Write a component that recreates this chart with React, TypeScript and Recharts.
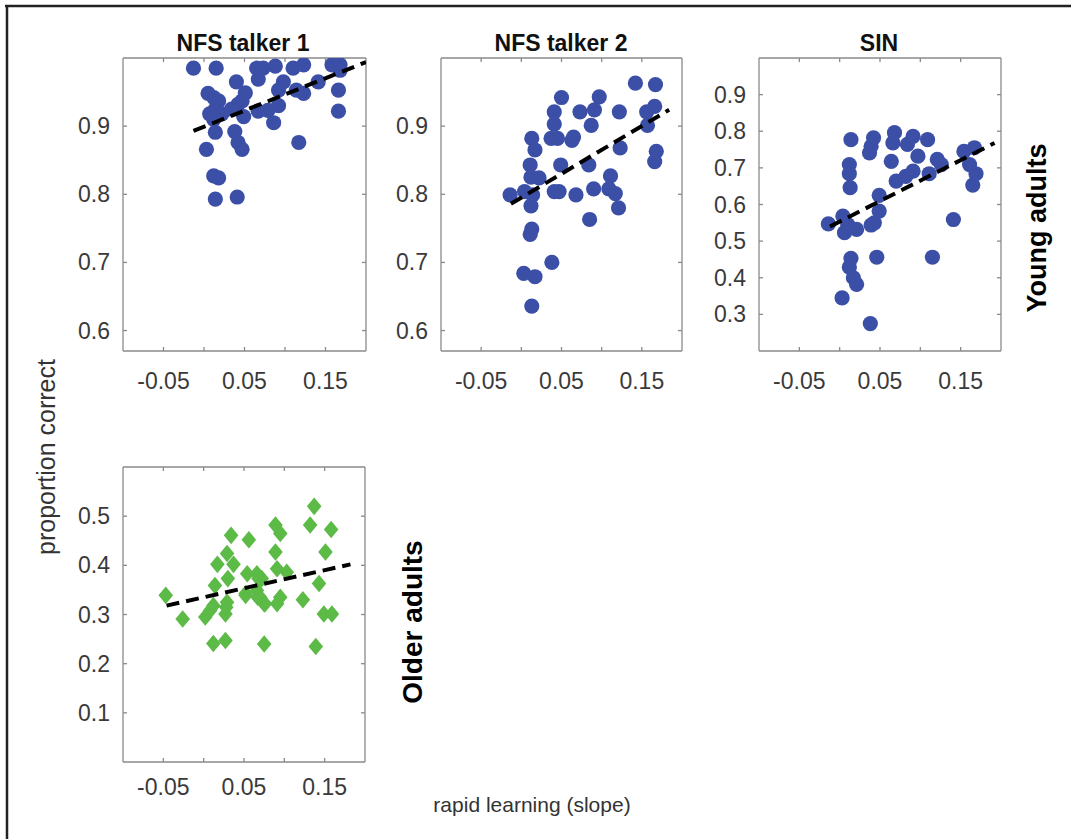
import React from "react";
import { ScatterChart, Scatter, XAxis, YAxis } from "recharts";

const FONT = "'Liberation Sans', Arial, Helvetica, sans-serif";
const BLUE = "#3c4fa7";
const GREEN = "#5cba46";
const AXIS = "#8a8a8a";
const TICKTXT = "#3a3a3a";

// shared x axis ticks
const xTickValues = [-0.05, 0, 0.05, 0.1, 0.15];
const xLabelValues = [-0.05, 0.05, 0.15];
const xLabelTexts = ["-0.05", "0.05", "0.15"];

// panel titles / labels
const panelTitles = ["NFS talker 1", "NFS talker 2", "SIN"];
const rowLabels = ["Young adults", "Older adults"];
const yAxisTitle = "proportion correct";
const xAxisTitle = "rapid learning (slope)";

// y tick values
const yTicksNFS = [0.6, 0.7, 0.8, 0.9];
const yTicksSIN = [0.3, 0.4, 0.5, 0.6, 0.7, 0.8, 0.9];
const yTicksOld = [0.1, 0.2, 0.3, 0.4, 0.5];

// Young adults, NFS talker 1
const t1X = [-0.013, 0.015, 0.065, 0.073, 0.088, 0.110, 0.123, 0.158, 0.168, 0.168, 0.067, 0.040, 0.098, 0.092, 0.141, 0.166, 0.051, 0.005, 0.012, 0.123, 0.114, 0.018, 0.047, 0.042, 0.092, 0.067, 0.079, 0.166, 0.014, 0.022, 0.012, 0.034, 0.049, 0.086, 0.014, 0.038, 0.042, 0.047, 0.003, 0.117, 0.012, 0.018, 0.014, 0.041, 0.007];
const t1Y = [0.985, 0.985, 0.985, 0.985, 0.988, 0.985, 0.990, 0.990, 0.990, 0.982, 0.969, 0.965, 0.965, 0.953, 0.965, 0.953, 0.949, 0.948, 0.942, 0.948, 0.953, 0.937, 0.937, 0.932, 0.930, 0.922, 0.923, 0.922, 0.925, 0.918, 0.910, 0.925, 0.914, 0.905, 0.891, 0.892, 0.876, 0.866, 0.866, 0.876, 0.827, 0.824, 0.793, 0.796, 0.918];
const t1FitX = [-0.013, 0.2];
const t1FitY = [0.893, 0.994];

// Young adults, NFS talker 2
const t2X = [0.142, 0.167, 0.050, 0.097, 0.041, 0.073, 0.091, 0.122, 0.156, 0.166, 0.041, 0.087, 0.157, 0.037, 0.045, 0.065, 0.063, 0.013, 0.017, 0.123, 0.168, 0.166, 0.011, 0.049, 0.084, 0.012, 0.022, 0.111, -0.014, 0.004, 0.014, 0.012, 0.041, 0.047, 0.068, 0.090, 0.109, 0.117, 0.121, 0.085, 0.013, 0.011, 0.038, 0.003, 0.017, 0.013];
const t2Y = [0.963, 0.961, 0.942, 0.943, 0.921, 0.921, 0.924, 0.921, 0.921, 0.929, 0.903, 0.901, 0.901, 0.882, 0.882, 0.884, 0.879, 0.882, 0.865, 0.868, 0.863, 0.848, 0.843, 0.843, 0.843, 0.825, 0.824, 0.827, 0.799, 0.804, 0.799, 0.783, 0.804, 0.804, 0.799, 0.808, 0.808, 0.801, 0.780, 0.763, 0.749, 0.741, 0.700, 0.684, 0.679, 0.636];
const t2FitX = [-0.013, 0.184];
const t2FitY = [0.786, 0.924];

// Young adults, SIN
const sinX = [0.014, 0.042, 0.039, 0.037, 0.068, 0.066, 0.091, 0.084, 0.109, 0.097, 0.064, 0.012, 0.012, 0.121, 0.126, 0.154, 0.167, 0.161, 0.169, 0.165, 0.091, 0.082, 0.070, 0.111, 0.013, 0.049, 0.049, 0.043, -0.014, 0.004, 0.010, 0.006, 0.021, 0.039, 0.141, 0.014, 0.012, 0.046, 0.115, 0.017, 0.021, 0.003, 0.038];
const sinY = [0.777, 0.782, 0.759, 0.741, 0.796, 0.768, 0.786, 0.764, 0.777, 0.732, 0.718, 0.709, 0.684, 0.723, 0.709, 0.745, 0.755, 0.709, 0.684, 0.653, 0.691, 0.677, 0.664, 0.684, 0.646, 0.625, 0.582, 0.550, 0.547, 0.568, 0.545, 0.523, 0.532, 0.544, 0.559, 0.453, 0.429, 0.456, 0.456, 0.400, 0.382, 0.345, 0.275];
const sinFitX = [-0.012, 0.192];
const sinFitY = [0.540, 0.768];

// Older adults
const oldX = [-0.047, -0.026, 0.002, 0.008, 0.014, 0.017, 0.012, 0.027, 0.029, 0.034, 0.037, 0.030, 0.029, 0.027, 0.056, 0.054, 0.052, 0.066, 0.072, 0.067, 0.075, 0.075, 0.089, 0.095, 0.089, 0.091, 0.103, 0.091, 0.095, 0.123, 0.132, 0.137, 0.143, 0.139, 0.151, 0.158, 0.149, 0.159, 0.068, 0.066, 0.070, 0.076, 0.052, 0.028, 0.012];
const oldY = [0.339, 0.291, 0.295, 0.308, 0.359, 0.402, 0.241, 0.247, 0.424, 0.461, 0.402, 0.373, 0.325, 0.301, 0.452, 0.383, 0.342, 0.383, 0.373, 0.335, 0.322, 0.240, 0.482, 0.465, 0.427, 0.393, 0.386, 0.322, 0.335, 0.330, 0.482, 0.520, 0.363, 0.235, 0.427, 0.473, 0.301, 0.301, 0.373, 0.349, 0.335, 0.322, 0.339, 0.315, 0.318];
const oldFitX = [-0.046, 0.182];
const oldFitY = [0.318, 0.402];

const zip = (xs: number[], ys: number[]) => xs.map((x, i) => ({ x, y: ys[i] }));

const near = (a: number, b: number) => Math.abs(a - b) < 1e-9;

const XTick = (props: any) => {
  const { x, y, payload } = props;
  const idx = xLabelValues.findIndex((v) => near(v, payload.value));
  if (idx < 0) return <g />;
  return (
    <text x={x} y={y} dy="0.35em" textAnchor="middle" fontSize={23} fill={TICKTXT} fontFamily={FONT}>
      {xLabelTexts[idx]}
    </text>
  );
};

const YTick = (props: any) => {
  const { x, y, payload } = props;
  return (
    <text x={x} y={y} dy="0.35em" textAnchor="end" fontSize={23} fill={TICKTXT} fontFamily={FONT}>
      {Number(payload.value).toFixed(1)}
    </text>
  );
};

const Empty = () => <g />;

const Circle = (props: any) => {
  const { cx, cy, fill } = props;
  if (cx == null || cy == null) return <g />;
  return <circle cx={cx} cy={cy} r={7.6} fill={fill} />;
};

const Diamond = (props: any) => {
  const { cx, cy, fill } = props;
  if (cx == null || cy == null) return <g />;
  const w = 7.3, h = 8.8;
  return <polygon points={`${cx},${cy - h} ${cx + w},${cy} ${cx},${cy + h} ${cx - w},${cy}`} fill={fill} />;
};

type PanelProps = {
  left: number;
  top: number;
  w: number;
  h: number;
  yDomain: [number, number];
  yTicks: number[];
  data: { x: number; y: number }[];
  fit: { x: number; y: number }[];
  color: string;
  shape: any;
  xLabelGap: number;
};

const Panel = ({ left, top, w, h, yDomain, yTicks, data, fit, color, shape, xLabelGap }: PanelProps) => {
  const W = w + 80;
  const H = h + 60;
  return (
    <div style={{ position: "absolute", left: left - 70, top: top - 10, width: W, height: H }}>
      <ScatterChart width={W} height={H} margin={{ top: 0, right: 0, bottom: 0, left: 0 }} style={{ overflow: "visible" }}>
        <XAxis
          xAxisId="b"
          dataKey="x"
          type="number"
          domain={[-0.1, 0.2]}
          ticks={xTickValues}
          allowDataOverflow
          height={50}
          stroke={AXIS}
          strokeWidth={1.3}
          tickSize={-4}
          tickMargin={xLabelGap}
          tick={<XTick />}
          interval={0}
        />
        <XAxis
          xAxisId="t"
          orientation="top"
          dataKey="x"
          type="number"
          domain={[-0.1, 0.2]}
          ticks={xTickValues}
          allowDataOverflow
          height={10}
          stroke={AXIS}
          strokeWidth={1.3}
          tickSize={-4}
          tick={<Empty />}
          interval={0}
        />
        <YAxis
          yAxisId="l"
          dataKey="y"
          type="number"
          domain={yDomain}
          ticks={yTicks}
          allowDataOverflow
          width={70}
          stroke={AXIS}
          strokeWidth={1.3}
          tickSize={-4}
          tickMargin={17}
          tick={<YTick />}
          interval={0}
        />
        <YAxis
          yAxisId="r"
          orientation="right"
          dataKey="y"
          type="number"
          domain={yDomain}
          ticks={yTicks}
          allowDataOverflow
          width={10}
          stroke={AXIS}
          strokeWidth={1.3}
          tickSize={-4}
          tick={<Empty />}
          interval={0}
        />
        <Scatter xAxisId="b" yAxisId="l" data={data} fill={color} shape={shape} isAnimationActive={false} />
        <Scatter
          xAxisId="b"
          yAxisId="l"
          data={fit}
          fill="none"
          line={{ stroke: "#000", strokeWidth: 4, strokeDasharray: "13 7" }}
          shape={<Empty />}
          isAnimationActive={false}
        />
      </ScatterChart>
    </div>
  );
};

export default function App() {
  const titleCx = [243, 561, 879];
  return (
    <div style={{ position: "absolute", left: 0, top: 0, width: 1071, height: 839, background: "#fff", overflow: "hidden" }}>
      <svg width={1071} height={839} style={{ position: "absolute", left: 0, top: 0 }}>
        <line x1={5} y1={6} x2={1071} y2={6} stroke="#222" strokeWidth={2.5} />
        <line x1={7} y1={5} x2={7} y2={839} stroke="#222" strokeWidth={2.5} />
        {panelTitles.map((t, i) => (
          <text key={t} x={titleCx[i]} y={51} textAnchor="middle" fontSize={23} fontWeight="bold" fill="#111" fontFamily={FONT}>
            {t}
          </text>
        ))}
        <text x={55} y={457} transform="rotate(-90 55 457)" textAnchor="middle" fontSize={25} fill="#333" fontFamily={FONT}>
          {yAxisTitle}
        </text>
        <text x={532} y={812} textAnchor="middle" fontSize={21} fill="#333" fontFamily={FONT}>
          {xAxisTitle}
        </text>
        <text x={1046} y={228} transform="rotate(-90 1046 228)" textAnchor="middle" fontSize={27} fontWeight="bold" fill="#000" fontFamily={FONT}>
          {rowLabels[0]}
        </text>
        <text x={422} y={622} transform="rotate(-90 422 622)" textAnchor="middle" fontSize={28} fontWeight="bold" fill="#000" fontFamily={FONT}>
          {rowLabels[1]}
        </text>
      </svg>
      <Panel left={123} top={58} w={243} h={293} yDomain={[0.57, 1.0]} yTicks={yTicksNFS} data={zip(t1X, t1Y)} fit={zip(t1FitX, t1FitY)} color={BLUE} shape={<Circle />} xLabelGap={34} />
      <Panel left={441} top={58} w={241} h={293} yDomain={[0.57, 1.0]} yTicks={yTicksNFS} data={zip(t2X, t2Y)} fit={zip(t2FitX, t2FitY)} color={BLUE} shape={<Circle />} xLabelGap={34} />
      <Panel left={759} top={58} w={242} h={293} yDomain={[0.2, 1.0]} yTicks={yTicksSIN} data={zip(sinX, sinY)} fit={zip(sinFitX, sinFitY)} color={BLUE} shape={<Circle />} xLabelGap={34} />
      <Panel left={123} top={467} w={242} h={295} yDomain={[0.0, 0.6]} yTicks={yTicksOld} data={zip(oldX, oldY)} fit={zip(oldFitX, oldFitY)} color={GREEN} shape={<Diamond />} xLabelGap={29} />
    </div>
  );
}
